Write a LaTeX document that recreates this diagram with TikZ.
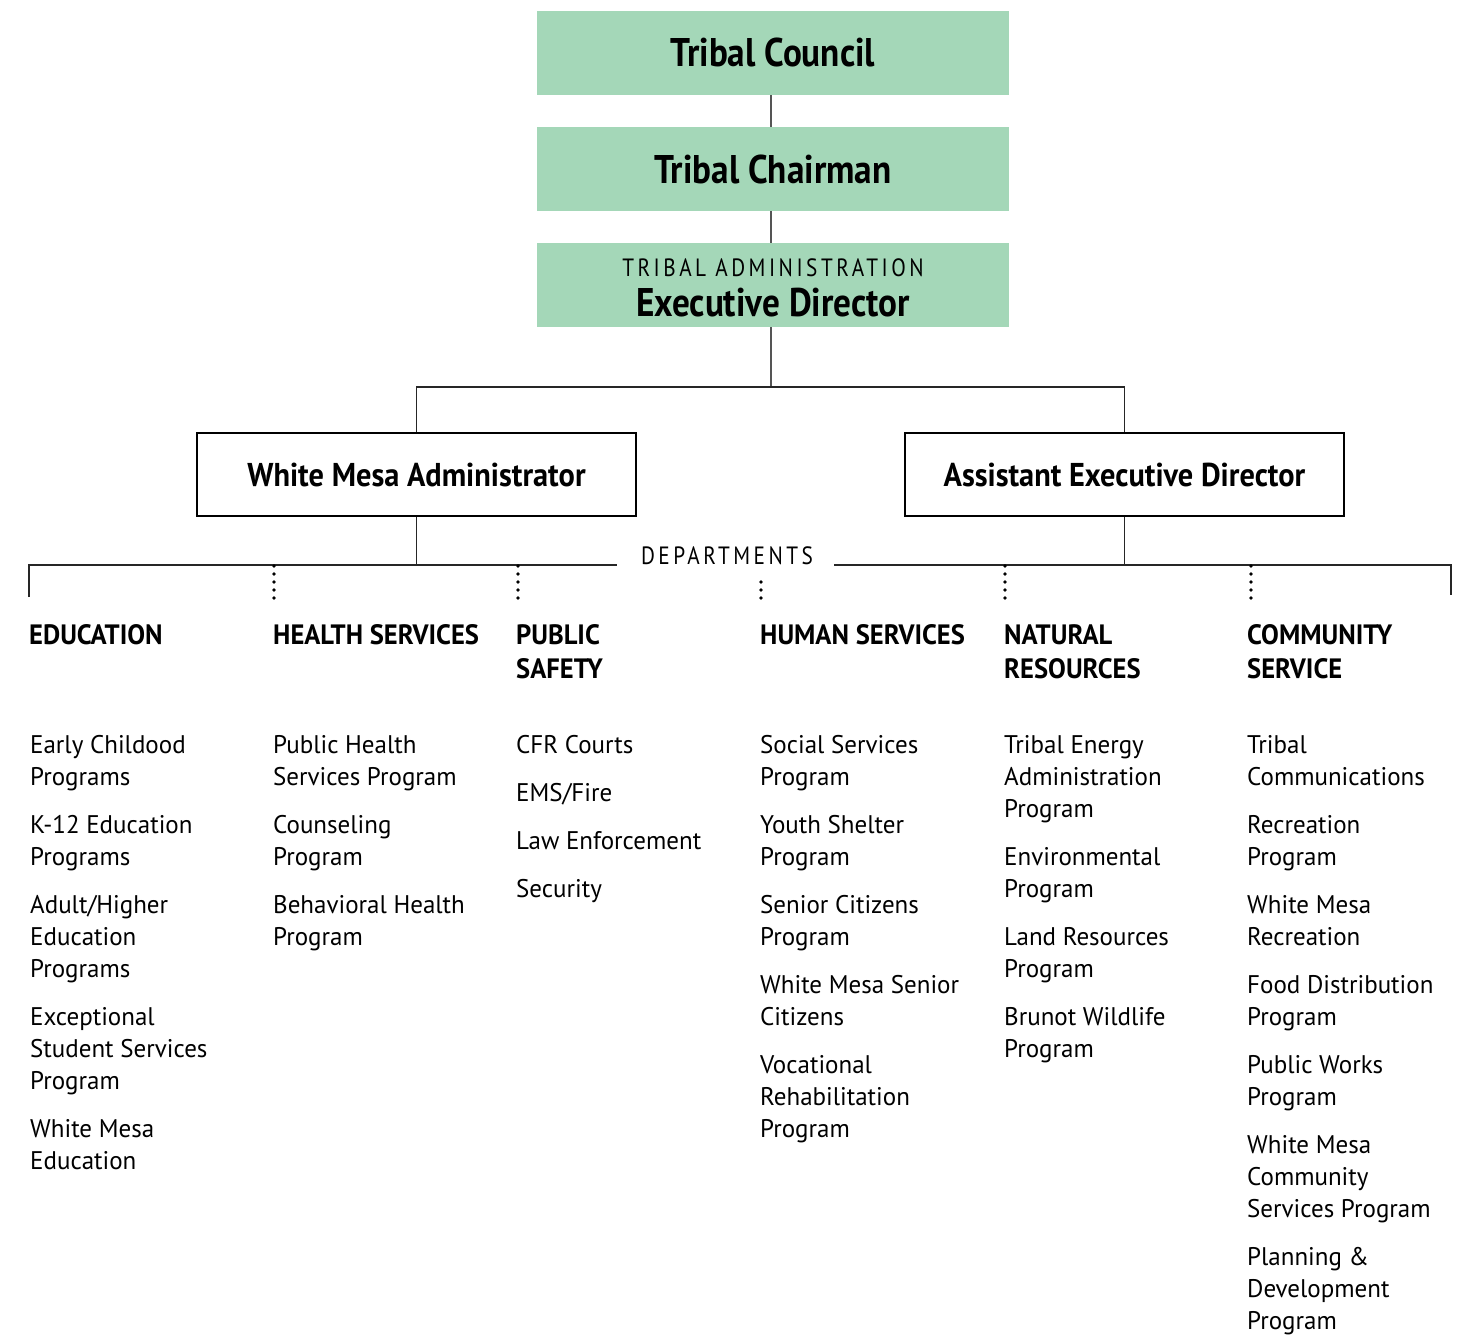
\documentclass[tikz,border=0pt]{standalone}
\usepackage{fontspec}
\setmainfont{PT Sans}
\newfontfamily\titlecond[FakeStretch=0.88]{PT Sans Bold}
\newfontfamily\boxcond[FakeStretch=0.92]{PT Sans Bold}
\newfontfamily\headcond[FakeStretch=0.95]{PT Sans Bold}
\newfontfamily\plaincond[FakeStretch=0.98]{PT Sans}
\newfontfamily\spacedcaps[LetterSpace=14,FakeStretch=0.85]{PT Sans}
\newcommand\linestack[1]{\begin{tabular}[t]{@{}l@{}}#1\end{tabular}}
\definecolor{boxgreen}{HTML}{A4D7B8}
\definecolor{linegray}{HTML}{555555}
\tikzset{
  greenbox/.style={fill=boxgreen, minimum width=472pt, minimum height=84pt, inner sep=0pt, font=\titlecond\fontsize{40}{44}\selectfont},
  whitebox/.style={draw=black, line width=2pt, minimum width=439pt, minimum height=83pt, inner sep=0pt, font=\boxcond\fontsize{33}{38}\selectfont},
  toplink/.style={draw=linegray, line width=2pt},
  deptlink/.style={draw=black!85, line width=1.3pt},
  dotlink/.style={draw=black, line width=3.6pt, line cap=round, dash pattern=on 0pt off 8pt},
  depthead/.style={anchor=base west, inner sep=0pt, font=\headcond\fontsize{28}{34}\selectfont},
  unit/.style={anchor=base west, inner sep=0pt, font=\plaincond\fontsize{25.5}{32}\selectfont},
}
\begin{document}
\begin{tikzpicture}[x=1pt,y=-1pt]
\useasboundingbox (0,0) rectangle (1476,1335);

% governing bodies
\node[greenbox] (council) at (773,53) {Tribal Council};
\node[greenbox] (chair) at (773,169) {Tribal Chairman};
\node[greenbox] (exec) at (773,285) {};
\node[anchor=base, inner sep=0pt, font=\spacedcaps\fontsize{25}{28}\selectfont] (admin) at (773,276) {TRIBAL ADMINISTRATION};
\node[anchor=base, inner sep=0pt, font=\titlecond\fontsize{40}{44}\selectfont] (execname) at (773,316) {Executive Director};

\draw[toplink] (council.south -| 771,0) -- (chair.north -| 771,0);
\draw[toplink] (chair.south -| 771,0) -- (exec.north -| 771,0);

% second tier
\node[whitebox] (wma) at (416.5,474.5) {White Mesa Administrator};
\node[whitebox] (aed) at (1124.5,474.5) {Assistant Executive Director};

\coordinate (split) at (771,387);
\draw[toplink] (exec.south -| split) -- (split);
\draw[deptlink] (wma.north) |- (split) -| (aed.north);

% departments bar
\node[inner sep=0pt, font=\spacedcaps\fontsize{25}{28}\selectfont] (depts) at (727,556) {DEPARTMENTS};
\coordinate (barL) at (29,565);
\coordinate (barR) at (1451,565);
\coordinate (gapL) at (617,565);
\coordinate (gapR) at (834,565);
\draw[deptlink] (wma.south) -- (wma.south |- barL);
\draw[deptlink] (aed.south) -- (aed.south |- barL);
\draw[deptlink] (29,597) -- (barL) -- (gapL);
\draw[deptlink] (gapR) -- (barR) -- (1451,595);
\draw[dotlink] (274,566) -- (274,598);
\draw[dotlink] (518,566) -- (518,598);
\draw[dotlink] (761,582) -- (761,598);
\draw[dotlink] (1005,566) -- (1005,598);
\draw[dotlink] (1251,566) -- (1251,598);

% department headings
\node[depthead] (edu) at (29,644) {EDUCATION};
\node[depthead] (health) at (273,644) {HEALTH SERVICES};
\node[depthead] (safety) at (516,644) {\linestack{PUBLIC\\SAFETY}};
\node[depthead] (human) at (760,644) {HUMAN SERVICES};
\node[depthead] (natural) at (1004,644) {\linestack{NATURAL\\RESOURCES}};
\node[depthead] (community) at (1247,644) {\linestack{COMMUNITY\\SERVICE}};

% education
\node[unit] (edu1) at (30,753) {\linestack{Early Childood\\Programs}};
\node[unit] (edu2) at (30,833) {\linestack{K-12 Education\\Programs}};
\node[unit] (edu3) at (30,913) {\linestack{Adult/Higher\\Education\\Programs}};
\node[unit] (edu4) at (30,1025) {\linestack{Exceptional\\Student Services\\Program}};
\node[unit] (edu5) at (30,1137) {\linestack{White Mesa\\Education}};

% health services
\node[unit] (hs1) at (273,753) {\linestack{Public Health\\Services Program}};
\node[unit] (hs2) at (273,833) {\linestack{Counseling\\Program}};
\node[unit] (hs3) at (273,913) {\linestack{Behavioral Health\\Program}};

% public safety
\node[unit] (ps1) at (516,753) {CFR Courts};
\node[unit] (ps2) at (516,801) {EMS/Fire};
\node[unit] (ps3) at (516,849) {Law Enforcement};
\node[unit] (ps4) at (516,897) {Security};

% human services
\node[unit] (hu1) at (760,753) {\linestack{Social Services\\Program}};
\node[unit] (hu2) at (760,833) {\linestack{Youth Shelter\\Program}};
\node[unit] (hu3) at (760,913) {\linestack{Senior Citizens\\Program}};
\node[unit] (hu4) at (760,993) {\linestack{White Mesa Senior\\Citizens}};
\node[unit] (hu5) at (760,1073) {\linestack{Vocational\\Rehabilitation\\Program}};

% natural resources
\node[unit] (nr1) at (1004,753) {\linestack{Tribal Energy\\Administration\\Program}};
\node[unit] (nr2) at (1004,865) {\linestack{Environmental\\Program}};
\node[unit] (nr3) at (1004,945) {\linestack{Land Resources\\Program}};
\node[unit] (nr4) at (1004,1025) {\linestack{Brunot Wildlife\\Program}};

% community service
\node[unit] (cs1) at (1247,753) {\linestack{Tribal\\Communications}};
\node[unit] (cs2) at (1247,833) {\linestack{Recreation\\Program}};
\node[unit] (cs3) at (1247,913) {\linestack{White Mesa\\Recreation}};
\node[unit] (cs4) at (1247,993) {\linestack{Food Distribution\\Program}};
\node[unit] (cs5) at (1247,1073) {\linestack{Public Works\\Program}};
\node[unit] (cs6) at (1247,1153) {\linestack{White Mesa\\Community\\Services Program}};
\node[unit] (cs7) at (1247,1265) {\linestack{Planning \&\\Development\\Program}};
\end{tikzpicture}
\end{document}
